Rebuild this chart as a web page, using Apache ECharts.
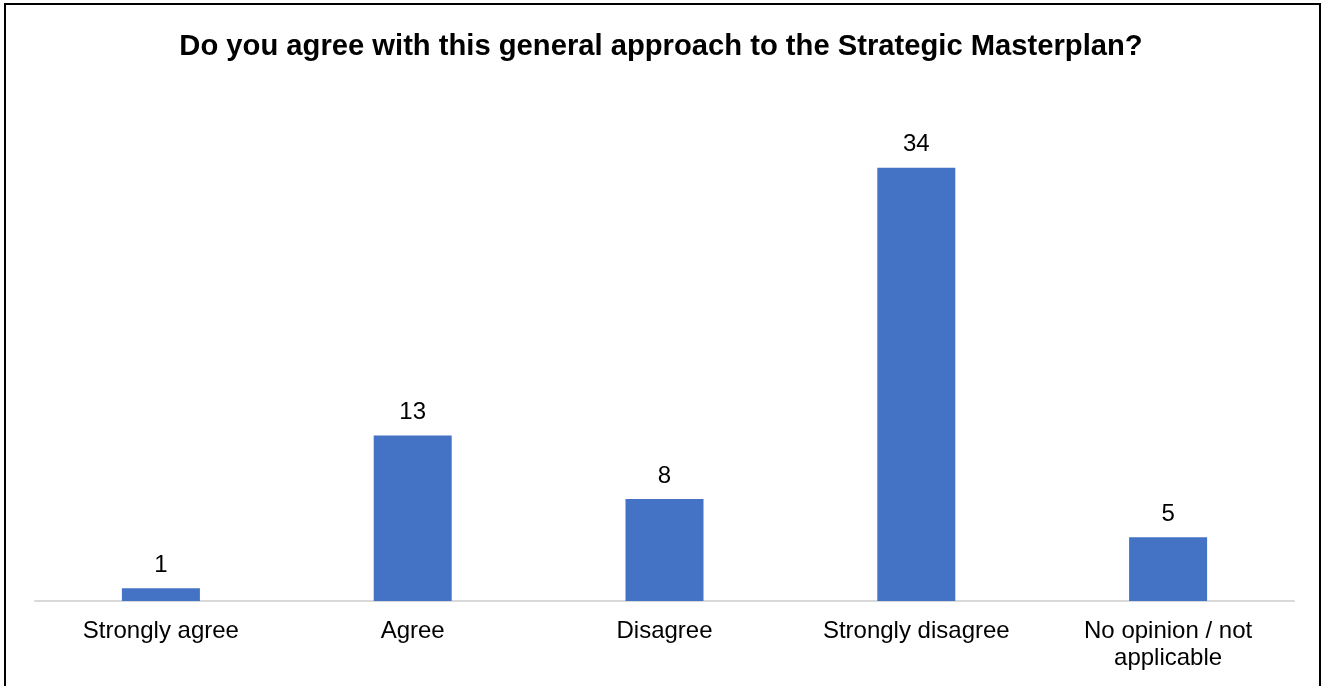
<!DOCTYPE html>
<html><head><meta charset="utf-8">
<script src="https://cdn.jsdelivr.net/npm/echarts@6/dist/echarts.min.js"></script>
<style>
html,body{margin:0;padding:0;background:#fff;}
#c{width:1322px;height:686px;}
#frame{position:absolute;left:4px;top:3px;width:1313px;height:720px;border:2px solid #000;pointer-events:none;}
</style></head>
<body>
<div id="c"></div>
<div id="frame"></div>
<script>
const titleText = 'Do you agree with this general approach to the Strategic Masterplan?';
const categories = ['Strongly agree', 'Agree', 'Disagree', 'Strongly disagree', 'No opinion / not\napplicable'];
const values = [1, 13, 8, 34, 5];

const chart = echarts.init(document.getElementById('c'));
chart.setOption({
  animation: false,
  title: {
    text: titleText, left: 'center', top: 27,
    textStyle: {fontFamily: 'Liberation Sans, Arial', fontSize: 29.2, fontWeight: 'bold', color: '#000'}
  },
  grid: {left: 35, right: 28, top: 91.4, bottom: 85, containLabel: false},
  xAxis: {
    type: 'category', data: categories,
    axisLine: {lineStyle: {color: '#d9d9d9', width: 2}},
    axisTick: {show: false},
    axisLabel: {fontFamily: 'Liberation Sans, Arial', fontSize: 24, color: '#000', margin: 17, lineHeight: 27, interval: 0}
  },
  yAxis: {type: 'value', min: 0, max: 40, show: false, splitLine: {show: false}},
  series: [{
    type: 'bar', data: values, barWidth: 78,
    itemStyle: {color: '#4472c4'},
    label: {show: true, position: 'top', distance: 11, fontFamily: 'Liberation Sans, Arial', fontSize: 24, color: '#000'}
  }]
});
</script>
</body></html>
